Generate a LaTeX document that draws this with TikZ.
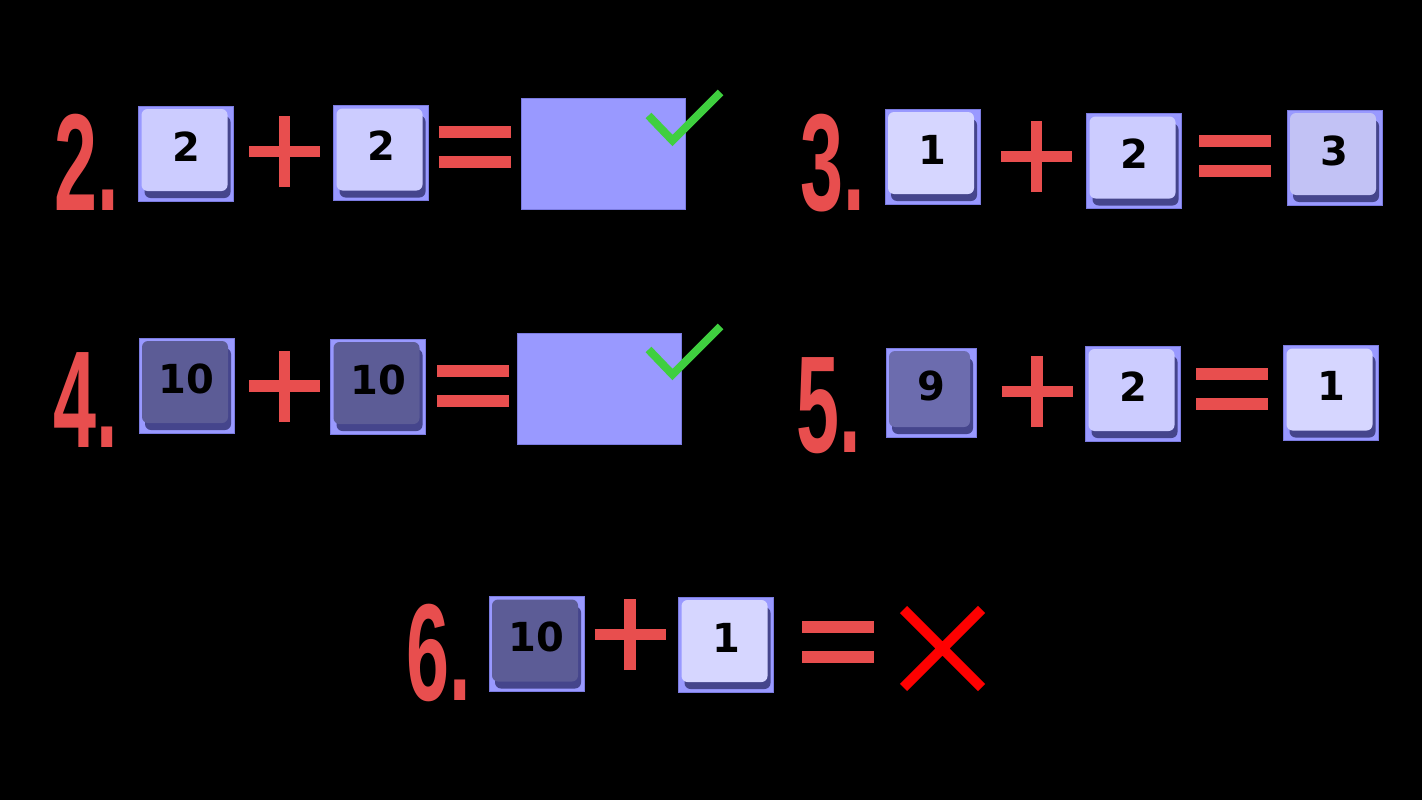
\documentclass[tikz,border=0pt]{standalone}
\usepackage{fontspec}
\newfontfamily\tilefont{DejaVu Sans}
\newfontfamily\numfont{Liberation Sans}
\definecolor{numred}{HTML}{E84E4E}
\definecolor{tileout}{HTML}{9999FF}
\definecolor{tileedge}{HTML}{7B7BE0}
\definecolor{tileshadow}{HTML}{45458C}
\definecolor{faceA}{HTML}{D6D6FF}
\definecolor{faceB}{HTML}{CCCCFF}
\definecolor{faceC}{HTML}{C2C2F5}
\definecolor{faceD}{HTML}{6C6CAE}
\definecolor{faceE}{HTML}{5C5C96}
\definecolor{tickgreen}{HTML}{3FCF3F}
\definecolor{crossred}{HTML}{FF0000}

\newcommand{\plussign}[1]{\draw[op] ([xshift=-35.5pt]#1) -- ([xshift=35.5pt]#1) ([yshift=-35.5pt]#1) -- ([yshift=35.5pt]#1);}
\newcommand{\eqsign}[1]{\draw[op] ([xshift=-36pt,yshift=15pt]#1) -- ([xshift=36pt,yshift=15pt]#1) ([xshift=-36pt,yshift=-15pt]#1) -- ([xshift=36pt,yshift=-15pt]#1);}

\begin{document}
\begin{tikzpicture}[x=1pt, y=-1pt,
    tile/.style = {draw=tileedge, line width=1pt, fill=tileout, minimum width=95pt, minimum height=95pt,
        inner sep=0pt, text height=29pt, text depth=14pt, font=\tilefont\bfseries\fontsize{40}{40}\selectfont,
        path picture={
            \fill[tileshadow, rounded corners=6pt] ([xshift=6pt,yshift=3pt]path picture bounding box.south west) rectangle ([xshift=-3pt,yshift=-10pt]path picture bounding box.north east);
            \fill[#1, rounded corners=6pt] ([xshift=3pt,yshift=10pt]path picture bounding box.south west) rectangle ([xshift=-6pt,yshift=-3pt]path picture bounding box.north east);
        }},
    rowno/.style = {anchor=base west, inner sep=0pt, text=numred, font=\numfont\bfseries\fontsize{138}{138}\selectfont},
    answer/.style = {draw=tileedge, line width=1pt, fill=tileout, minimum width=164pt, minimum height=111pt, inner sep=0pt},
    op/.style = {numred, line width=11.5pt},
    tick/.style = {tickgreen, line width=8pt},
    cross/.style = {crossred, line width=10pt}]
    \fill[black] (0,0) rectangle (1422,800);
    % 2.
    \node[rowno] (n2) at (54,210) {\scalebox{0.56}[1]{2.}};
    \node[tile=faceB] (a1) at (186,153.5) {2};
    \coordinate (p1) at (284.5,151.5); \plussign{p1}
    \node[tile=faceB] (a2) at (381,153) {2};
    \coordinate (e1) at (474.5,147); \eqsign{e1}
    \node[answer] (r1) at (603,153.5) {};
    \draw[tick] ([xshift=-37pt,yshift=-18pt]r1.north east) -- ++(24,25) -- ++(48,-48);
    % 3.
    \node[rowno] (n3) at (800,210) {\scalebox{0.56}[1]{3.}};
    \node[tile=faceA] (b1) at (932.5,156.5) {1};
    \coordinate (p2) at (1036.5,156.5); \plussign{p2}
    \node[tile=faceB] (b2) at (1134,161) {2};
    \coordinate (e2) at (1235,156); \eqsign{e2}
    \node[tile=faceC] (b3) at (1334.5,157.5) {3};
    % 4.
    \node[rowno] (n4) at (53,447) {\scalebox{0.56}[1]{4.}};
    \node[tile=faceE] (c1) at (186.5,385.5) {10};
    \coordinate (p3) at (284.5,386); \plussign{p3}
    \node[tile=faceE] (c2) at (378,386.5) {10};
    \coordinate (e3) at (473,386); \eqsign{e3}
    \node[answer] (r2) at (599,388.5) {};
    \draw[tick] ([xshift=-33pt,yshift=-17pt]r2.north east) -- ++(24,25) -- ++(48,-48);
    % 5.
    \node[rowno] (n5) at (796,452) {\scalebox{0.56}[1]{5.}};
    \node[tile=faceD, minimum width=90pt, minimum height=89pt] (d1) at (931,392.5) {9};
    \coordinate (p4) at (1037,391.5); \plussign{p4}
    \node[tile=faceB] (d2) at (1133,393.5) {2};
    \coordinate (e4) at (1232,389); \eqsign{e4}
    \node[tile=faceA] (d3) at (1331,393) {1};
    % 6.
    \node[rowno] (n6) at (406,700) {\scalebox{0.56}[1]{6.}};
    \node[tile=faceE] (f1) at (536.5,644) {10};
    \coordinate (p5) at (630,634.5); \plussign{p5}
    \node[tile=faceA] (f2) at (726,644.5) {1};
    \coordinate (e5) at (838,642); \eqsign{e5}
    \coordinate (x1) at (942.5,648.5);
    \draw[cross] ([xshift=-39pt,yshift=39pt]x1) -- ([xshift=39pt,yshift=-39pt]x1) ([xshift=-39pt,yshift=-39pt]x1) -- ([xshift=39pt,yshift=39pt]x1);
\end{tikzpicture}
\end{document}
